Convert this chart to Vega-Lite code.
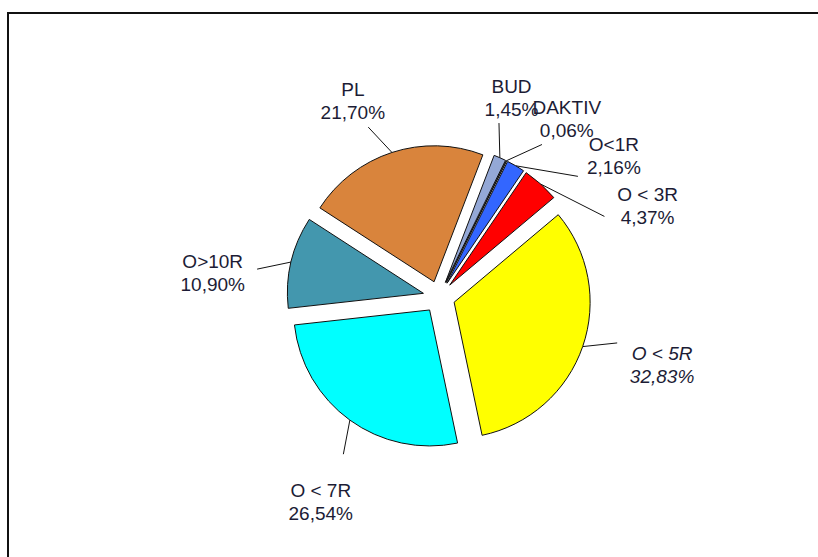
{
  "$schema": "https://vega.github.io/schema/vega-lite/v6.json",
  "width": 830,
  "height": 560,
  "autosize": "none",
  "padding": {"left": 8, "top": 13, "right": 0, "bottom": 0},
  "background": "white",
  "config": {"view": {"stroke": "#111111", "strokeWidth": 2}},
  "data": {
    "values": [
      {"order": 1, "name": "BUD", "value": 1.45},
      {"order": 2, "name": "DAKTIV", "value": 0.06},
      {"order": 3, "name": "O<1R", "value": 2.16},
      {"order": 4, "name": "O < 3R", "value": 4.37},
      {"order": 5, "name": "O < 5R", "value": 32.83},
      {"order": 6, "name": "O  < 7R", "value": 26.54},
      {"order": 7, "name": "O>10R", "value": 10.90},
      {"order": 8, "name": "PL", "value": 21.70}
    ]
  },
  "transform": [
    {"stack": "value", "groupby": [], "sort": [{"field": "order"}], "as": ["v0", "v1"]},
    {"calculate": "0.3665 + (datum.v0 + datum.v1) * PI / 100", "as": "mid"},
    {"calculate": "datum.mid - datum.order * 0.2618", "as": "t"},
    {"window": [{"op": "max", "field": "t", "as": "runmax"}], "sort": [{"field": "order"}], "frame": [null, 0]},
    {"calculate": "datum.order * 0.2618 + datum.runmax - 0.08", "as": "la"},
    {"calculate": "16 * sin(datum.mid)", "as": "cx"},
    {"calculate": "16 * cos(datum.mid)", "as": "cy"},
    {"calculate": "152 * sin(datum.mid)", "as": "lx1"},
    {"calculate": "152 * cos(datum.mid)", "as": "ly1"},
    {"calculate": "184 * sin(datum.la)", "as": "lx2"},
    {"calculate": "184 * cos(datum.la)", "as": "ly2"},
    {"calculate": "190 + 36 * abs(sin(datum.la)) + 22 * abs(cos(datum.la))", "as": "ltext"},
    {"calculate": "datum.ltext * sin(datum.la)", "as": "tx"},
    {"calculate": "datum.ltext * cos(datum.la)", "as": "ty"},
    {"calculate": "datum.name + '\\n' + replace(format(datum.value, '.2f'), '.', ',') + '%'", "as": "label"}
  ],
  "layer": [
    {
      "mark": {"type": "rule", "stroke": "#111111", "strokeWidth": 1},
      "encoding": {
        "x": {"field": "lx1", "type": "quantitative", "scale": {"domain": [-431, 399], "nice": false, "zero": false}, "axis": null},
        "y": {"field": "ly1", "type": "quantitative", "scale": {"domain": [-276, 284], "nice": false, "zero": false}, "axis": null},
        "x2": {"field": "lx2"},
        "y2": {"field": "ly2"}
      }
    },
    {
      "mark": {"type": "arc", "radius": 136, "stroke": "#111111", "strokeWidth": 1},
      "encoding": {
        "x": {"field": "cx", "type": "quantitative", "scale": {"domain": [-431, 399], "nice": false, "zero": false}, "axis": null},
        "y": {"field": "cy", "type": "quantitative", "scale": {"domain": [-276, 284], "nice": false, "zero": false}, "axis": null},
        "theta": {"field": "v0", "type": "quantitative", "stack": null, "scale": {"domain": [0, 100], "range": [0.3665, 6.6497]}},
        "theta2": {"field": "v1"},
        "color": {
          "field": "name",
          "type": "nominal",
          "legend": null,
          "scale": {
            "domain": ["BUD", "DAKTIV", "O<1R", "O < 3R", "O < 5R", "O  < 7R", "O>10R", "PL"],
            "range": ["#94A8D6", "#505050", "#3366FF", "#FF0000", "#FFFF00", "#00FFFF", "#4397AE", "#D9843C"]
          }
        }
      }
    },
    {
      "transform": [{"filter": "datum.name != 'O < 5R'"}],
      "mark": {"type": "text", "align": "center", "baseline": "middle", "lineBreak": "\n", "font": "Liberation Sans", "fontSize": 19, "lineHeight": 23, "fill": "#1c1c35"},
      "encoding": {
        "x": {"field": "tx", "type": "quantitative", "scale": {"domain": [-431, 399], "nice": false, "zero": false}, "axis": null},
        "y": {"field": "ty", "type": "quantitative", "scale": {"domain": [-276, 284], "nice": false, "zero": false}, "axis": null},
        "text": {"field": "label"}
      }
    },
    {
      "transform": [{"filter": "datum.name == 'O < 5R'"}],
      "mark": {"type": "text", "align": "center", "baseline": "middle", "lineBreak": "\n", "font": "Liberation Sans", "fontSize": 19, "lineHeight": 23, "fontStyle": "italic", "fill": "#1c1c35"},
      "encoding": {
        "x": {"field": "tx", "type": "quantitative", "scale": {"domain": [-431, 399], "nice": false, "zero": false}, "axis": null},
        "y": {"field": "ty", "type": "quantitative", "scale": {"domain": [-276, 284], "nice": false, "zero": false}, "axis": null},
        "text": {"field": "label"}
      }
    }
  ]
}
